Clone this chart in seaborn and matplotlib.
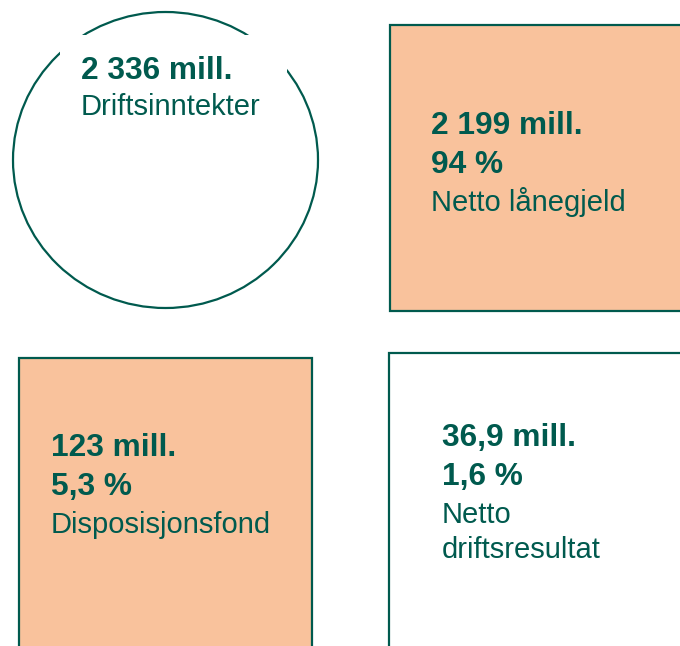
import matplotlib
matplotlib.use("Agg")
import matplotlib.pyplot as plt
from matplotlib.patches import Ellipse, Rectangle
import seaborn as sns

# Data
amounts = ["2 336 mill.", "2 199 mill.", "123 mill.", "36,9 mill."]
percents = [None, "94 %", "5,3 %", "1,6 %"]
labels = ["Driftsinntekter", "Netto lånegjeld", "Disposisjonsfond", "Netto\ndriftsresultat"]

sns.set_theme(style="white")
plt.rcParams['font.family'] = ['Liberation Sans', 'DejaVu Sans']

TEAL = "#005A4E"
PEACH = "#F9C29C"

fig = plt.figure(figsize=(6.8, 6.46), dpi=100)
ax = fig.add_axes([0, 0, 1, 1])
ax.set_xlim(0, 680)
ax.set_ylim(646, 0)
ax.axis("off")

# Circle tile
ax.add_patch(Ellipse((165.5, 160), 305, 296, facecolor="white", edgecolor=TEAL, lw=1.6, zorder=1))
ax.add_patch(Rectangle((60, 35), 227, 85, facecolor="white", edgecolor="none", zorder=2))

# Rect tiles
ax.add_patch(Rectangle((390, 25), 300, 286, facecolor=PEACH, edgecolor=TEAL, lw=1.6, zorder=1))
ax.add_patch(Rectangle((19, 358), 293, 300, facecolor=PEACH, edgecolor=TEAL, lw=1.6, zorder=1))
ax.add_patch(Rectangle((389, 353), 300, 300, facecolor="white", edgecolor=TEAL, lw=1.6, zorder=1))

BOLD = 22.8
REG = 21

def tile_text(x, y0, amount, pct, label, step=39):
    y = y0
    ax.text(x, y, amount, fontsize=BOLD, fontweight="bold", color=TEAL, va="baseline", ha="left", zorder=3)
    y += step
    if pct is not None:
        ax.text(x, y, pct, fontsize=BOLD, fontweight="bold", color=TEAL, va="baseline", ha="left", zorder=3)
        y += step - 1
    for i, line in enumerate(label.split("\n")):
        ax.text(x, y + i * 35, line, fontsize=REG, color=TEAL, va="baseline", ha="left", zorder=3)

tile_text(81, 79, amounts[0], percents[0], labels[0], step=36)
tile_text(431, 134, amounts[1], percents[1], labels[1])
tile_text(51, 456, amounts[2], percents[2], labels[2])
tile_text(442, 446, amounts[3], percents[3], labels[3])

fig.savefig("out.png", dpi=100)
